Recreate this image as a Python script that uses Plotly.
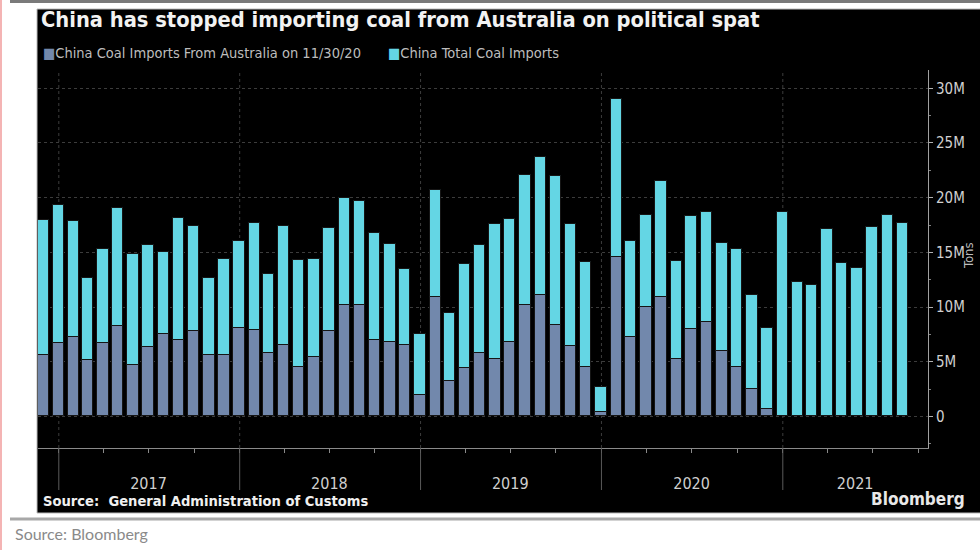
import pandas as pd
import plotly.graph_objects as go

# ---------------- data (million tons) ----------------
months = pd.date_range("2016-11-30", periods=58, freq="ME")

total_imports = [18.0, 19.3, 17.9, 12.7, 15.3, 19.1, 14.85, 15.7, 15.0, 18.15,
                 17.4, 12.7, 14.35, 16.0, 17.65, 13.0, 17.4, 14.3, 14.4, 17.2,
                 20.0, 19.7, 16.75, 15.75, 13.5, 7.5, 20.7, 9.5, 13.95, 15.7,
                 17.55, 18.05, 22.1, 23.75, 22.0, 17.55, 14.15, 2.7, 29.0, 16.0,
                 18.4, 21.55, 14.2, 18.3, 18.65, 15.9, 15.3, 11.15, 8.1, 18.65,
                 12.25, 12.0, 17.1, 14.0, 13.6, 17.35, 18.4, 17.7]

australia_imports = [5.6, 6.75, 7.3, 5.15, 6.7, 8.3, 4.7, 6.35, 7.55, 7.0,
                     7.8, 5.6, 5.6, 8.1, 7.95, 5.8, 6.55, 4.55, 5.45, 7.8,
                     10.15, 10.2, 7.0, 6.8, 6.5, 2.0, 10.9, 3.25, 4.4, 5.8,
                     5.25, 6.8, 10.2, 11.1, 8.35, 6.4, 4.55, 0.4, 14.55, 7.3,
                     10.05, 10.9, 5.25, 8.0, 8.6, 6.0, 4.5, 2.55, 0.65,
                     None, None, None, None, None, None, None, None, None]

series_names = ["China Coal Imports From Australia on 11/30/20", "China Total Coal Imports"]
years = ["2017", "2018", "2019", "2020", "2021"]
year_label_dates = ["2017-07-01", "2018-07-01", "2019-07-01", "2020-07-01", "2021-05-27"]
year_starts = ["2017-01-01", "2018-01-01", "2019-01-01", "2020-01-01", "2021-01-01"]
y_ticks = [0, 5, 10, 15, 20, 25, 30]
y_ticktext = ["0", "5M", "10M", "15M", "20M", "25M", "30M"]

# ---------------- style ----------------
C_AUS = "#7288AC"
C_TOT = "#64D6E4"
BAR_W = 23 * 86400000
FONT_C = "DejaVu Sans Condensed"

L, R, T, B = 38, 52, 70, 102
W, H = 980, 550
PW, PH = W - L - R, H - T - B


def px(x):
    return (x - L) / PW


def py(y):
    return (H - B - y) / PH


fig = go.Figure()
fig.add_trace(go.Bar(x=months, y=total_imports, name=series_names[1], width=BAR_W,
                     marker=dict(color=C_TOT, line=dict(color="#151515", width=1)),
                     showlegend=False))
fig.add_trace(go.Bar(x=months, y=australia_imports, name=series_names[0], width=BAR_W,
                     marker=dict(color=C_AUS, line=dict(color="#151515", width=1)),
                     showlegend=False))

shapes = [
    # black panel
    dict(type="rect", xref="paper", yref="paper", x0=px(37), x1=px(981), y0=py(513), y1=py(9),
         fillcolor="black", line=dict(color="#bbbbbb", width=1), layer="below"),
    # top grey rule
    dict(type="line", xref="paper", yref="paper", x0=px(10), x1=px(981), y0=py(1.5), y1=py(1.5),
         line=dict(color="#7a7a7a", width=3)),
    # bottom grey rule
    dict(type="line", xref="paper", yref="paper", x0=px(10), x1=px(981), y0=py(519), y1=py(519),
         line=dict(color="#a8a8a8", width=3)),
    # left pink edge
    dict(type="line", xref="paper", yref="paper", x0=px(1), x1=px(1), y0=py(551), y1=py(-1),
         line=dict(color="#f4b4b4", width=2)),
]
for d in year_starts:
    shapes.append(dict(type="line", xref="x", yref="paper", x0=d, x1=d, y0=0, y1=1,
                       line=dict(color="#3c3c3c", width=1, dash="dot"), layer="below"))
    shapes.append(dict(type="line", xref="x", yref="paper", x0=d, x1=d, y0=py(490), y1=0,
                       line=dict(color="#5a5a5a", width=1)))

annotations = [
    dict(text="<b>China has stopped importing coal from Australia on political spat</b>",
         xref="paper", yref="paper", x=px(39), y=py(19), xanchor="left", yanchor="middle",
         showarrow=False, font=dict(family=FONT_C, size=21.7, color="#f2f2f2")),
    dict(text=f"<span style='color:{C_AUS}'>■</span>{series_names[0]}",
         xref="paper", yref="paper", x=px(41), y=py(53), xanchor="left", yanchor="middle",
         showarrow=False, font=dict(family=FONT_C, size=14.5, color="#bdbdbd")),
    dict(text=f"<span style='color:{C_TOT}'>■</span>{series_names[1]}",
         xref="paper", yref="paper", x=px(386), y=py(53), xanchor="left", yanchor="middle",
         showarrow=False, font=dict(family=FONT_C, size=14.5, color="#bdbdbd")),
    dict(text="<b>Source:  General Administration of Customs</b>",
         xref="paper", yref="paper", x=px(41), y=py(500), xanchor="left", yanchor="middle",
         showarrow=False, font=dict(family=FONT_C, size=14.6, color="#f0f0f0")),
    dict(text="<b>Bloomberg</b>",
         xref="paper", yref="paper", x=px(869), y=py(499), xanchor="left", yanchor="middle",
         showarrow=False, font=dict(family=FONT_C, size=17, color="#e8e8e8")),
    dict(text="Tons", textangle=-90,
         xref="paper", yref="paper", x=px(968), y=py(256), xanchor="center", yanchor="middle",
         showarrow=False, font=dict(family=FONT_C, size=13, color="#bdbdbd")),
    dict(text="Source: Bloomberg",
         xref="paper", yref="paper", x=px(13), y=py(533), xanchor="left", yanchor="middle",
         showarrow=False, font=dict(family="Lato", size=16, color="#8a8a8a")),
]

fig.update_layout(
    width=W, height=H,
    margin=dict(l=L, r=R, t=T, b=B, pad=0),
    paper_bgcolor="white", plot_bgcolor="black",
    barmode="overlay", bargap=0,
    showlegend=False,
    shapes=shapes, annotations=annotations,
    xaxis=dict(type="date", range=["2016-11-20", "2021-10-21"],
               tickvals=year_label_dates, ticktext=years, ticks="",
               ticklabelstandoff=21,
               tickfont=dict(family=FONT_C, size=16, color="#cfcfcf"),
               showgrid=False, zeroline=False,
               showline=True, linecolor="#8a8a8a", linewidth=1,
               minor=dict(ticks="outside", ticklen=4, tickcolor="#8a8a8a",
                          tick0="2017-01-01", dtick="M3", showgrid=False)),
    yaxis=dict(side="right", range=[-2.88, 31.67],
               tickvals=y_ticks, ticktext=y_ticktext,
               ticks="outside", ticklen=4, tickcolor="#b0b0b0",
               tickfont=dict(family=FONT_C, size=15, color="#d0d0d0"),
               showgrid=True, gridcolor="#3c3c3c", griddash="dot", gridwidth=1,
               zeroline=False,
               showline=True, linecolor="#a0a0a0", linewidth=1,
               minor=dict(ticks="outside", ticklen=2, tickcolor="#808080", dtick=2.5,
                          showgrid=False)),
)

fig.write_html("out.html")
